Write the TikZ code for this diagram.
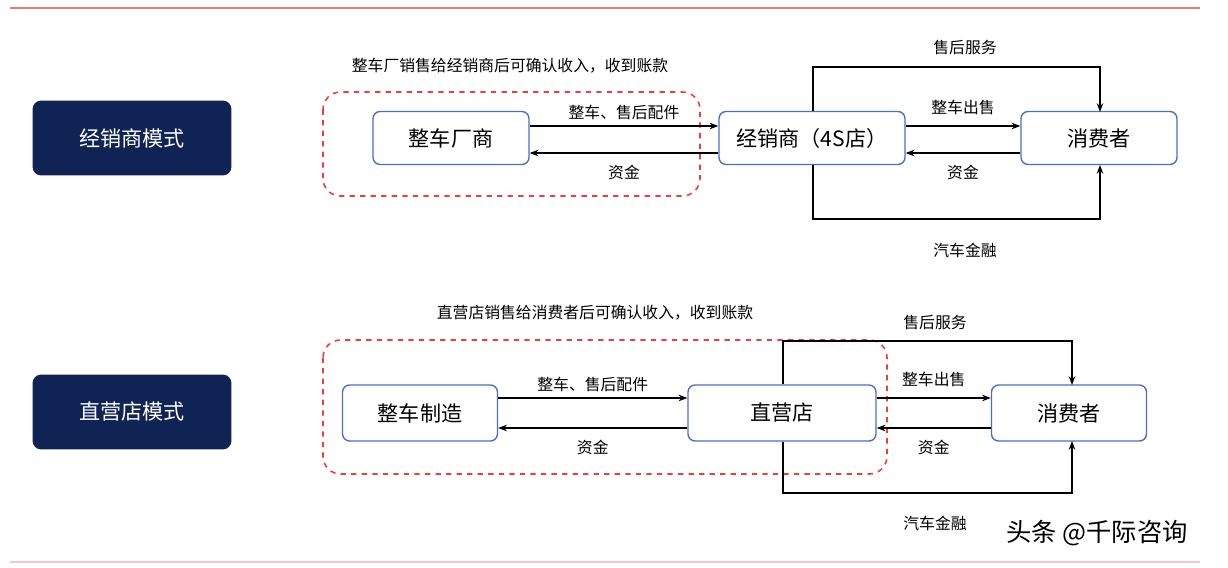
\documentclass[tikz,border=0pt]{standalone}
\usepackage{fontspec}
\setmainfont{Noto Sans CJK SC}
\usetikzlibrary{arrows.meta}
\definecolor{navy}{HTML}{0F2454}
\definecolor{bblue}{HTML}{4A6FC0}
\definecolor{rdash}{HTML}{E8403A}
\tikzset{
  mode/.style={fill=navy,rounded corners=5pt,text=white,font=\large,minimum width=3.98cm,minimum height=1.5cm,inner sep=0pt},
  ent/.style={draw=bblue,line width=0.8pt,fill=white,rounded corners=4pt,font=\large,inner sep=0pt},
  lab/.style={font=\small},
  arr/.style={-{Stealth[length=5pt]},line width=0.6pt},
  grp/.style={draw=rdash,dashed,line width=0.9pt,rounded corners=10pt}
}
\begin{document}
\begin{tikzpicture}[x=0.02cm,y=-0.02cm]
\useasboundingbox (0,0) rectangle (1228,568);
\draw[rdash!70,line width=1pt] (10,8) -- (1200,8);
\draw[rdash!30,line width=1pt] (10,562) -- (1200,562);
% top
\node[mode] (m1) at (132,138) {经销商模式};
\node[mode] (m2) at (132,412) {直营店模式};
\draw[grp] (323,92) rectangle (700,196);
\node[lab] (t1) at (510,66) {整车厂销售给经销商后可确认收入，收到账款};
\node[ent,minimum width=3.12cm,minimum height=1.06cm] (a1) at (451,138) {整车厂商};
\node[ent,minimum width=3.72cm,minimum height=1.06cm] (b1) at (812,138) {经销商（4S店）};
\node[ent,minimum width=3.12cm,minimum height=1.06cm] (c1) at (1099,138) {消费者};
\draw[arr] (a1.east|-0,126) -- (b1.west|-0,126) node[lab,midway,above] {整车、售后配件};
\draw[arr] (b1.west|-0,153) -- (a1.east|-0,153) node[lab,midway,below=3pt] {资金};
\draw[arr] (b1.east|-0,126) -- (c1.west|-0,126) node[lab,midway,above=3pt] {整车出售};
\draw[arr] (c1.west|-0,153) -- (b1.east|-0,153) node[lab,midway,below=3pt] {资金};
\coordinate (u1) at (813,67); \coordinate (d1) at (813,219);
\draw[arr] (u1|-b1.north) -- (u1) -- (1100,67) -- (1100,112);
\draw[arr] (d1|-b1.south) -- (d1) -- (1100,219) -- (1100,165);
\node[lab] (s1) at (965,47) {售后服务};
\node[lab] (f1) at (965,250) {汽车金融};
% bottom
\draw[grp] (323,340) rectangle (887,474);
\node[lab] (t2) at (595,313) {直营店销售给消费者后可确认收入，收到账款};
\node[ent,minimum width=3.1cm,minimum height=1.12cm] (a2) at (420,413) {整车制造};
\node[ent,minimum width=3.76cm,minimum height=1.12cm] (b2) at (782,413) {直营店};
\node[ent,minimum width=3.1cm,minimum height=1.12cm] (c2) at (1069,413) {消费者};
\draw[arr] (a2.east|-0,398) -- (b2.west|-0,398) node[lab,midway,above] {整车、售后配件};
\draw[arr] (b2.west|-0,428) -- (a2.east|-0,428) node[lab,midway,below=3pt] {资金};
\draw[arr] (b2.east|-0,398) -- (c2.west|-0,398) node[lab,midway,above=3pt] {整车出售};
\draw[arr] (c2.west|-0,428) -- (b2.east|-0,428) node[lab,midway,below=3pt] {资金};
\coordinate (u2) at (783,341); \coordinate (d2) at (783,493);
\draw[arr] (u2|-b2.north) -- (u2) -- (1072,341) -- (1072,385);
\draw[arr] (d2|-b2.south) -- (d2) -- (1072,493) -- (1072,441);
\node[lab] (s2) at (935,322) {售后服务};
\node[lab] (f2) at (935,523) {汽车金融};
\node[font=\Large] (w) at (1097,533) {头条 @千际咨询};
\end{tikzpicture}
\end{document}
